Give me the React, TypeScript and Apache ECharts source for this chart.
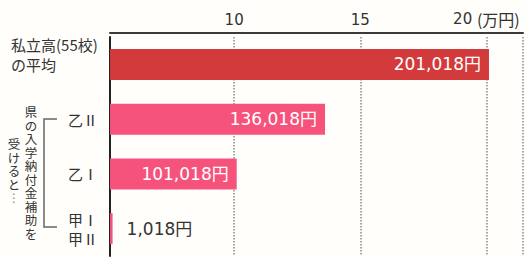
import React, { useEffect, useRef } from "react";
import * as echarts from "echarts";

const categories = ["私立高(55校)\nの平均", "乙Ⅱ", "乙Ⅰ", "甲Ⅰ\n甲Ⅱ"];
const valuesManYen = [20.1018, 13.6018, 10.1018, 0.1018];
const valueLabels = ["201,018円", "136,018円", "101,018円", "1,018円"];
const tickValues = [10, 15, 20];
const unitLabel = "(万円)";
const sideNoteCol1 = "県の入学納付金補助を";
const sideNoteCol2 = "受けると";
const sideNoteEllipsis = "⋮";

const DARK_RED = "#d23a3c";
const PINK = "#f5537c";
const CJK = '"Noto Sans CJK JP", sans-serif';
const NUM = '"DejaVu Sans", "Noto Sans CJK JP", sans-serif';

export default function App() {
  const ref = useRef<HTMLDivElement>(null);
  useEffect(() => {
    if (!ref.current) return;
    const chart = echarts.init(ref.current, null, { renderer: "svg" });

    const pitch = 13.5;
    const charStyle = (ch: string) => ({
      text: ch,
      font: "12.5px " + CJK,
      lineHeight: 13,
      fill: "#333",
      align: "center",
      verticalAlign: "top",
    });
    const col1 = sideNoteCol1.split("").map((ch, i) => ({
      type: "text",
      x: 31,
      y: 105 + i * pitch,
      style: charStyle(ch),
    }));
    const col2 = sideNoteCol2.split("").map((ch, i) => ({
      type: "text",
      x: 14,
      y: 137 + i * pitch,
      style: charStyle(ch),
    }));
    const dots = {
      type: "text",
      x: 14,
      y: 137 + sideNoteCol2.length * pitch,
      style: { text: sideNoteEllipsis, font: "12px " + NUM, lineHeight: 13, fill: "#888", align: "center", verticalAlign: "top" },
    };

    const option: any = {
      animation: false,
      backgroundColor: "#fffefa",
      grid: { left: 107, right: 0, top: 37, bottom: 3, containLabel: false },
      xAxis: {
        type: "value",
        position: "top",
        offset: 4,
        min: 0,
        max: 21.45,
        interval: 5,
        breaks: [{ start: 0.15, end: 5.23, gap: 0.0001 }],
        breakArea: { show: false },
        axisLine: { show: true, lineStyle: { color: "#3a3a3a", width: 2 } },
        axisTick: { show: false },
        splitLine: {
          show: true,
          lineStyle: { type: "dotted", color: "#8a8a8a", width: 1.5 },
        },
        axisLabel: {
          margin: 6,
          color: "#333",
          fontFamily: NUM,
          fontSize: 15,
          formatter: (v: number) => {
            if (!tickValues.includes(v)) return "";
            if (v === tickValues[tickValues.length - 1])
              return "{a|" + v + "} {u|" + unitLabel + "}";
            return "{a|" + v + "}";
          },
          rich: {
            a: { fontFamily: NUM, fontSize: 15, color: "#333" },
            u: { fontFamily: CJK, fontSize: 16, color: "#333" },
          },
        },
      },
      yAxis: {
        type: "category",
        inverse: true,
        data: categories,
        axisLine: { show: true, lineStyle: { color: "#222", width: 2 } },
        axisTick: { show: false },
        splitLine: { show: false },
        axisLabel: {
          align: "left",
          margin: 99,
          color: "#333",
          fontFamily: CJK,
          fontSize: 15,
          formatter: (v: string, i: number) => {
            const lines = v.split("\n");
            if (i === 0) return lines.map((l) => "{t|" + l + "}").join("\n") + "\n{t| }";
            return lines.map((l) => "{p|" + l + "}").join("\n");
          },
          rich: {
            t: { fontFamily: CJK, fontSize: 15, color: "#333", lineHeight: 20 },
            p: { fontFamily: CJK, fontSize: 15, color: "#333", lineHeight: 19, padding: [0, 0, 0, 57] },
          },
        },
      },
      series: [
        {
          type: "bar",
          barWidth: 31,
          data: valuesManYen.map((v, i) => {
            const last = i === valuesManYen.length - 1;
            return {
              value: v,
              itemStyle: { color: i === 0 ? DARK_RED : PINK },
              label: {
                show: true,
                position: last ? "right" : "insideRight",
                distance: last ? 14 : 8,
                color: last ? "#333" : "#fff",
                fontFamily: NUM,
                fontSize: 17,
                formatter: () => valueLabels[i],
              },
            };
          }),
        },
      ],
      graphic: [
        {
          type: "polyline",
          shape: { points: [[57, 119], [44, 119], [44, 227], [57, 227]] },
          style: { stroke: "#666", lineWidth: 1.5, fill: null },
        },
        ...col1,
        ...col2,
        dots,
      ],
    };
    chart.setOption(option);
    return () => chart.dispose();
  }, []);
  return (
    <div
      ref={ref}
      style={{ position: "fixed", left: 0, top: 0, width: 526, height: 259 }}
    />
  );
}
